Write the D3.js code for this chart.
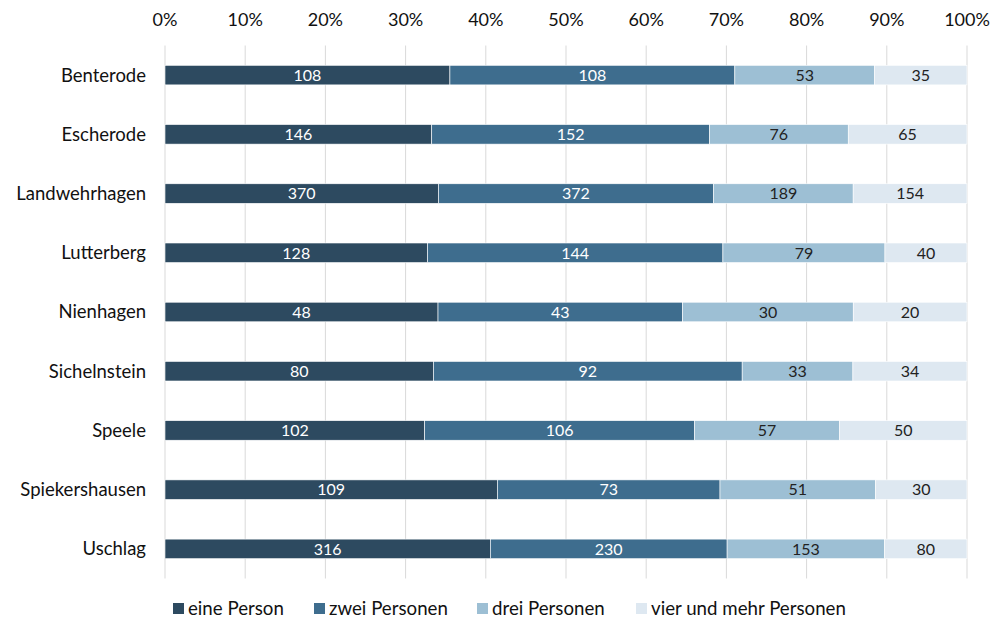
<!DOCTYPE html>
<html>
<head>
<meta charset="utf-8">
<script src="https://cdn.jsdelivr.net/npm/d3@7"></script>
<style>
  body { margin: 0; background: #fff; }
  svg { font-family: Lato, "Open Sans", sans-serif; }
</style>
</head>
<body>
<div id="chart"></div>
<script>
const places = ["Benterode", "Escherode", "Landwehrhagen", "Lutterberg", "Nienhagen",
  "Sichelnstein", "Speele", "Spiekershausen", "Uschlag"];
const series = ["eine Person", "zwei Personen", "drei Personen", "vier und mehr Personen"];
const eine = [108, 146, 370, 128, 48, 80, 102, 109, 316];
const zwei = [108, 152, 372, 144, 43, 92, 106, 73, 230];
const drei = [53, 76, 189, 79, 30, 33, 57, 51, 153];
const vier = [35, 65, 154, 40, 20, 34, 50, 30, 80];
const ticks = [0, 0.1, 0.2, 0.3, 0.4, 0.5, 0.6, 0.7, 0.8, 0.9, 1];

const colors = ["#2d4a60", "#3e6d8e", "#9dbfd4", "#dee8f1"];
const textColors = ["#fff", "#fff", "#222", "#222"];

const width = 995, height = 618;
const margin = { top: 45.5, right: 28, bottom: 39.5, left: 165 };

const rows = places.map((p, i) => {
  const vals = [eine[i], zwei[i], drei[i], vier[i]];
  const total = d3.sum(vals);
  const r = { place: p, vals: vals };
  series.forEach((s, j) => r[s] = vals[j] / total);
  return r;
});

const stacked = d3.stack().keys(series)(rows);

const svg = d3.select("#chart")
  .append("svg")
  .attr("width", width)
  .attr("height", height);

const x = d3.scaleLinear()
  .domain([0, 1])
  .range([margin.left, width - margin.right]);

const y = d3.scaleBand()
  .domain(places)
  .range([margin.top, height - margin.bottom])
  .paddingInner(0.67)
  .paddingOuter(0.335);

// gridlines
svg.append("g")
  .selectAll("line")
  .data(ticks)
  .enter()
  .append("line")
  .attr("x1", d => x(d))
  .attr("x2", d => x(d))
  .attr("y1", margin.top)
  .attr("y2", height - margin.bottom)
  .attr("stroke", "#d9d9d9")
  .attr("stroke-width", 1);

// top axis labels
svg.append("g")
  .selectAll("text")
  .data(ticks)
  .enter()
  .append("text")
  .attr("x", d => x(d))
  .attr("y", 20)
  .attr("dy", "0.35em")
  .attr("text-anchor", "middle")
  .style("font-size", "18px")
  .attr("fill", "#111")
  .text(d => d3.format(".0%")(d));

// category labels
svg.append("g")
  .selectAll("text")
  .data(places)
  .enter()
  .append("text")
  .attr("x", margin.left - 19)
  .attr("y", d => y(d) + y.bandwidth() / 2)
  .attr("dy", "0.35em")
  .attr("text-anchor", "end")
  .style("font-size", "18.5px")
  .attr("fill", "#111")
  .text(d => d);

const layers = svg.append("g")
  .selectAll("g")
  .data(stacked)
  .enter()
  .append("g");

layers.selectAll("rect")
  .data(d => d.map(v => ({ v, idx: d.index })))
  .enter()
  .append("rect")
  .attr("x", d => x(d.v[0]))
  .attr("width", d => x(d.v[1]) - x(d.v[0]))
  .attr("y", d => y(d.v.data.place))
  .attr("height", y.bandwidth())
  .attr("fill", d => colors[d.idx])
  .attr("stroke", "#fff")
  .attr("stroke-width", 0.6);

layers.selectAll("text")
  .data(d => d.map(v => ({ v, idx: d.index })))
  .enter()
  .append("text")
  .attr("x", d => (x(d.v[0]) + x(d.v[1])) / 2)
  .attr("y", d => y(d.v.data.place) + y.bandwidth() / 2)
  .attr("dy", "0.36em")
  .attr("text-anchor", "middle")
  .style("font-size", "16px")
  .attr("fill", d => textColors[d.idx])
  .text(d => d.v.data.vals[d.idx]);

// legend
const legendX = [173, 314, 477, 636];
const legend = svg.append("g")
  .selectAll("g")
  .data(series)
  .enter()
  .append("g")
  .attr("transform", (d, i) => `translate(${legendX[i]}, 608)`);

legend.append("rect")
  .attr("x", 0)
  .attr("y", -5)
  .attr("width", 11)
  .attr("height", 11)
  .attr("fill", (d, i) => colors[i]);

legend.append("text")
  .attr("x", 15)
  .attr("y", 0)
  .attr("dy", "0.35em")
  .style("font-size", "18.7px")
  .attr("fill", "#111")
  .text(d => d);
</script>
</body>
</html>
